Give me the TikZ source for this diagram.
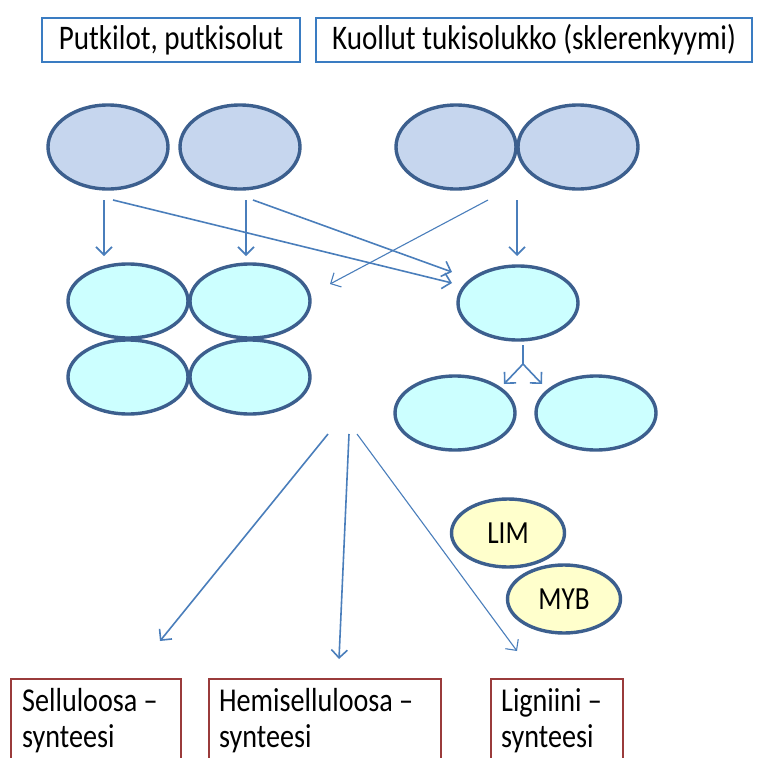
\documentclass[tikz,border=0pt]{standalone}
\usepackage{fontspec}
\usepackage{graphicx}
\setmainfont{Carlito}
\usetikzlibrary{arrows.meta,shapes.geometric}
\newcommand{\talltext}[1]{\scalebox{0.97}[1.15]{#1}}
\definecolor{topfill}{HTML}{C6D6EE}
\definecolor{cellborder}{HTML}{3C5F8E}
\definecolor{cyanfill}{HTML}{CCFFFF}
\definecolor{yelfill}{HTML}{FFFFCC}
\definecolor{arrowc}{HTML}{4A7EBB}
\definecolor{bluebox}{HTML}{3A7CC2}
\definecolor{redbox}{HTML}{9A3B3B}
\tikzset{
  cell/.style={ellipse, draw=cellborder, line width=3.4pt, minimum width=120pt, minimum height=82pt, inner sep=0pt},
  topcell/.style={cell, fill=topfill, minimum height=84pt},
  midcell/.style={cell, fill=cyanfill, minimum height=74pt},
  tfcell/.style={cell, fill=yelfill, minimum width=113pt, minimum height=68pt, font=\fontsize{28}{32}\selectfont},
  headbox/.style={draw=bluebox, line width=1.6pt, inner sep=0pt, font=\fontsize{30}{34}\selectfont},
  synbox/.style={draw=redbox, line width=1.6pt},
  synlabel/.style={anchor=base west, inner sep=0pt, font=\fontsize{29}{34}\selectfont},
  arr/.style={draw=arrowc, line width=1.6pt, -{Straight Barb[length=8pt,width=16pt]}},
  thinarr/.style={arr, line width=1.1pt}
}
\begin{document}
\begin{tikzpicture}[x=1pt,y=-1pt]
\useasboundingbox (0,0) rectangle (758,758);
\clip (0,0) rectangle (758,758);
% header boxes
\node[headbox, minimum width=258pt, minimum height=44pt] (h1) at (171,40) {\talltext{Putkilot, putkisolut}};
\node[headbox, minimum width=436pt, minimum height=44pt] (h2) at (534,40) {\talltext{Kuollut tukisolukko (sklerenkyymi)}};
% top cells
\node[topcell] (t1) at (108,147) {};
\node[topcell] (t2) at (240,147) {};
\node[topcell] (t3) at (456,147) {};
\node[topcell] (t4) at (578,147) {};
% middle cells
\node[midcell] (m1) at (128,301) {};
\node[midcell] (m2) at (250,301) {};
\node[midcell] (m3) at (128,377) {};
\node[midcell] (m4) at (250,377) {};
\node[midcell] (r1) at (518,303) {};
\node[midcell] (r2) at (455,413) {};
\node[midcell] (r3) at (596,413) {};
% transcription factors
\node[tfcell] (lim) at (508,533) {\talltext{LIM}};
\node[tfcell] (myb) at (564,599) {\talltext{MYB}};
% bottom boxes
\node[synbox, anchor=north west, minimum width=170pt, minimum height=100pt] (s1) at (10,678) {};
\node[synbox, anchor=north west, minimum width=232pt, minimum height=100pt] (s2) at (208,678) {};
\node[synbox, anchor=north west, minimum width=132pt, minimum height=100pt] (s3) at (490,678) {};
\node[synlabel] (l1a) at (22,711) {\talltext{Selluloosa –}};
\node[synlabel] (l1b) at (22,747) {\talltext{synteesi}};
\node[synlabel] (l2a) at (219,711) {\talltext{Hemiselluloosa –}};
\node[synlabel] (l2b) at (219,747) {\talltext{synteesi}};
\node[synlabel] (l3a) at (501,711) {\talltext{Ligniini –}};
\node[synlabel] (l3b) at (501,747) {\talltext{synteesi}};
% arrow end points
\coordinate (a1s) at (104,200); \coordinate (a1e) at (104,256);
\coordinate (a2s) at (246,200); \coordinate (a2e) at (246,256);
\coordinate (a3s) at (517,200); \coordinate (a3e) at (517,256);
\coordinate (c1s) at (113,200); \coordinate (c1e) at (452,283);
\coordinate (c2s) at (253,200); \coordinate (c2e) at (452,272);
\coordinate (c3s) at (488,200); \coordinate (c3e) at (330,284);
\coordinate (fk) at (523,364);
\coordinate (fs) at (523,345);
\coordinate (fl) at (504,384); \coordinate (fr) at (542,384);
\coordinate (b1s) at (328,434); \coordinate (b1e) at (160,641);
\coordinate (b2s) at (349,434); \coordinate (b2e) at (339,659);
\coordinate (b3s) at (357,434); \coordinate (b3e) at (517,651);
\draw[arr] (a1s) -- (a1e);
\draw[arr] (a2s) -- (a2e);
\draw[arr] (a3s) -- (a3e);
\draw[arr] (c1s) -- (c1e);
\draw[arr] (c2s) -- (c2e);
\draw[thinarr] (c3s) -- (c3e);
\draw[draw=arrowc, line width=1.6pt] (fs) -- (fk);
\draw[arr] (fk) -- (fl);
\draw[arr] (fk) -- (fr);
\draw[arr] (b1s) -- (b1e);
\draw[arr] (b2s) -- (b2e);
\draw[thinarr] (b3s) -- (b3e);
\end{tikzpicture}
\end{document}
